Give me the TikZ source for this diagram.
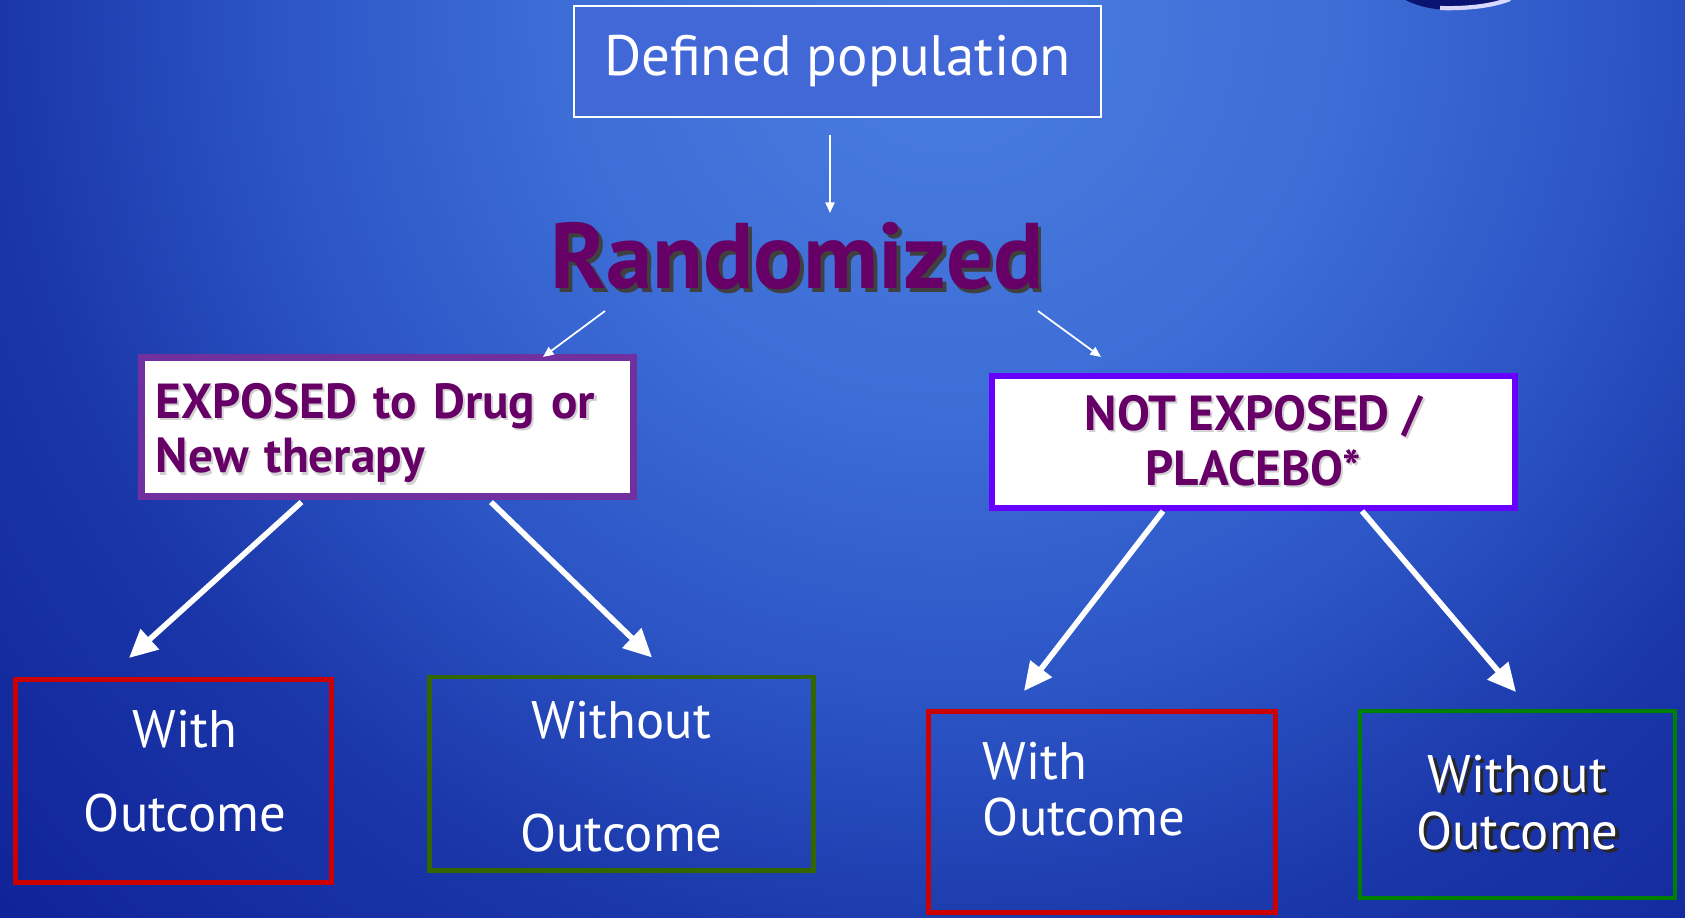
\documentclass[tikz,border=0pt]{standalone}
\usepackage{fontspec}
\setmainfont{PT Sans}
\usetikzlibrary{arrows.meta,shapes}
\definecolor{bgLight}{HTML}{4A7EE0}
\definecolor{bgUpper}{HTML}{3D6DD6}
\definecolor{bgMid}{HTML}{2C55C6}
\definecolor{bgLow}{HTML}{1A36A8}
\definecolor{bgDark}{HTML}{0A1890}
\definecolor{popFill}{HTML}{4267D6}
\definecolor{plum}{HTML}{660066}
\definecolor{expBorder}{HTML}{7030A0}
\definecolor{notBorder}{HTML}{6600FF}
\definecolor{outRed}{HTML}{CC0000}
\definecolor{outOlive}{HTML}{336600}
\definecolor{outGreen}{HTML}{008000}
\definecolor{swoosh}{HTML}{0A1470}
\pgfdeclareradialshading{bgglow}{\pgfpoint{0bp}{0bp}}{color(0bp)=(bgLight); color(7bp)=(bgUpper); color(12bp)=(bgMid); color(17bp)=(bgLow); color(23bp)=(bgDark!60!bgLow); color(28bp)=(bgDark); color(50bp)=(bgDark)}
\newcommand\dropshade[3]{\makebox[0pt][l]{\hspace{#1}\raisebox{-#1}{\color{#2}#3}}#3}
\tikzstyle{frame}=[draw, rectangle, inner sep=0pt]
\tikzstyle{armbox}=[frame, fill=white, text=plum, font=\fontsize{14}{15.6}\selectfont\bfseries]
\tikzstyle{outbox}=[frame, line width=1.4pt]
\tikzstyle{outtext}=[text=white, align=center, inner sep=0pt]
\tikzstyle{thinarrow}=[draw, white, line width=0.5pt, -{Triangle[length=3pt,width=2.6pt]}]
\tikzstyle{bigarrow}=[draw, white, line width=1.6pt, -{Triangle[length=8pt,width=7.5pt]}]

\begin{document}
\begin{tikzpicture}[x=0.01cm, y=-0.01cm]
    \useasboundingbox (0,0) rectangle (1685,917);
    \clip (0,0) rectangle (1685,917);
    % Background and the corner swoosh
    \shade[shading=bgglow] (950,20) circle (1400);
    \fill[swoosh] (1452,-22) ellipse (64 and 32);
    \draw[white!85!blue, line width=1.2pt] (1440,8) .. controls (1470,9) and (1495,5) .. (1510,-1);

    % Population and randomisation
    \node[frame, draw=white, line width=0.6pt, fill=popFill, minimum width=5.27cm, minimum height=1.11cm,
          text=white, font=\fontsize{16.2}{19}\selectfont] (defpop) at (837.5,61.5) {Defined population};
    \node[text=plum, font=\fontsize{26.5}{30}\selectfont\bfseries, inner sep=0pt] (random) at (797,258)
          {\dropshade{1pt}{black!75}{Randomized}};

    % The two arms
    \node[armbox, draw=expBorder, line width=2pt, minimum width=4.92cm, minimum height=1.39cm,
          text width=4.63cm, align=left] (exposed) at (387.5,427)
          {\rule{0pt}{14pt}\dropshade{0.6pt}{black!18}{EXPOSED to Drug or}\\\dropshade{0.6pt}{black!18}{New therapy}};
    \node[armbox, draw=notBorder, line width=1.7pt, minimum width=5.23cm, minimum height=1.32cm,
          align=center] (notexp) at (1253.5,442)
          {\dropshade{0.6pt}{black!18}{NOT EXPOSED /}\\\dropshade{0.6pt}{black!18}{PLACEBO*}};

    % Outcomes
    \node[outbox, draw=outRed, minimum width=3.16cm, minimum height=2.03cm,
          label={[outtext, xshift=3.3pt, yshift=2.8pt, font=\fontsize{15}{23.9}\selectfont]center:With\\Outcome}]
          (with1) at (173.5,781) {};
    \node[outbox, draw=outOlive, minimum width=3.83cm, minimum height=1.93cm,
          label={[outtext, yshift=-0.9pt, font=\fontsize{15}{32.1}\selectfont]center:Without\\Outcome}]
          (wo1) at (621.5,773.5) {};
    \node[outbox, draw=outRed, minimum width=3.47cm, minimum height=2.005cm,
          label={[outtext, align=left, text width=2cm, xshift=-5.4pt, yshift=6.5pt, font=\fontsize{15}{15.9}\selectfont]center:With\\Outcome}]
          (with2) at (1102,811.75) {};
    \node[outbox, draw=outGreen, line width=1.1pt, minimum width=3.15cm, minimum height=1.87cm,
          label={[outtext, font=\fontsize{15}{16.2}\selectfont]center:\dropshade{0.9pt}{black!85}{Without}\\\dropshade{0.9pt}{black!85}{Outcome}}]
          (wo2) at (1517.5,804.5) {};

    % Connectors
    \path[thinarrow] ([shift={(-7.5,17)}]defpop.south) -- ([shift={(33,-45)}]random.center);
    \path[thinarrow] ([shift={(-192,53)}]random.center) -- ([shift={(155.5,3)}]exposed.north);
    \path[thinarrow] ([shift={(241,53)}]random.center) -- ([shift={(-152.5,-16)}]notexp.north);
    \foreach \src/\sfrom/\dest/\sto in {exposed/{-86,2}/with1/{-44.5,-19}, exposed/{103.5,2}/wo1/{30.5,-17},
                                        notexp/{-90.5,0}/with2/{-78,-18}, notexp/{108.5,0}/wo2/{-1.5,-17}}
        \path[bigarrow] ([shift={(\sfrom)}]\src.south) -- ([shift={(\sto)}]\dest.north);
\end{tikzpicture}
\end{document}
